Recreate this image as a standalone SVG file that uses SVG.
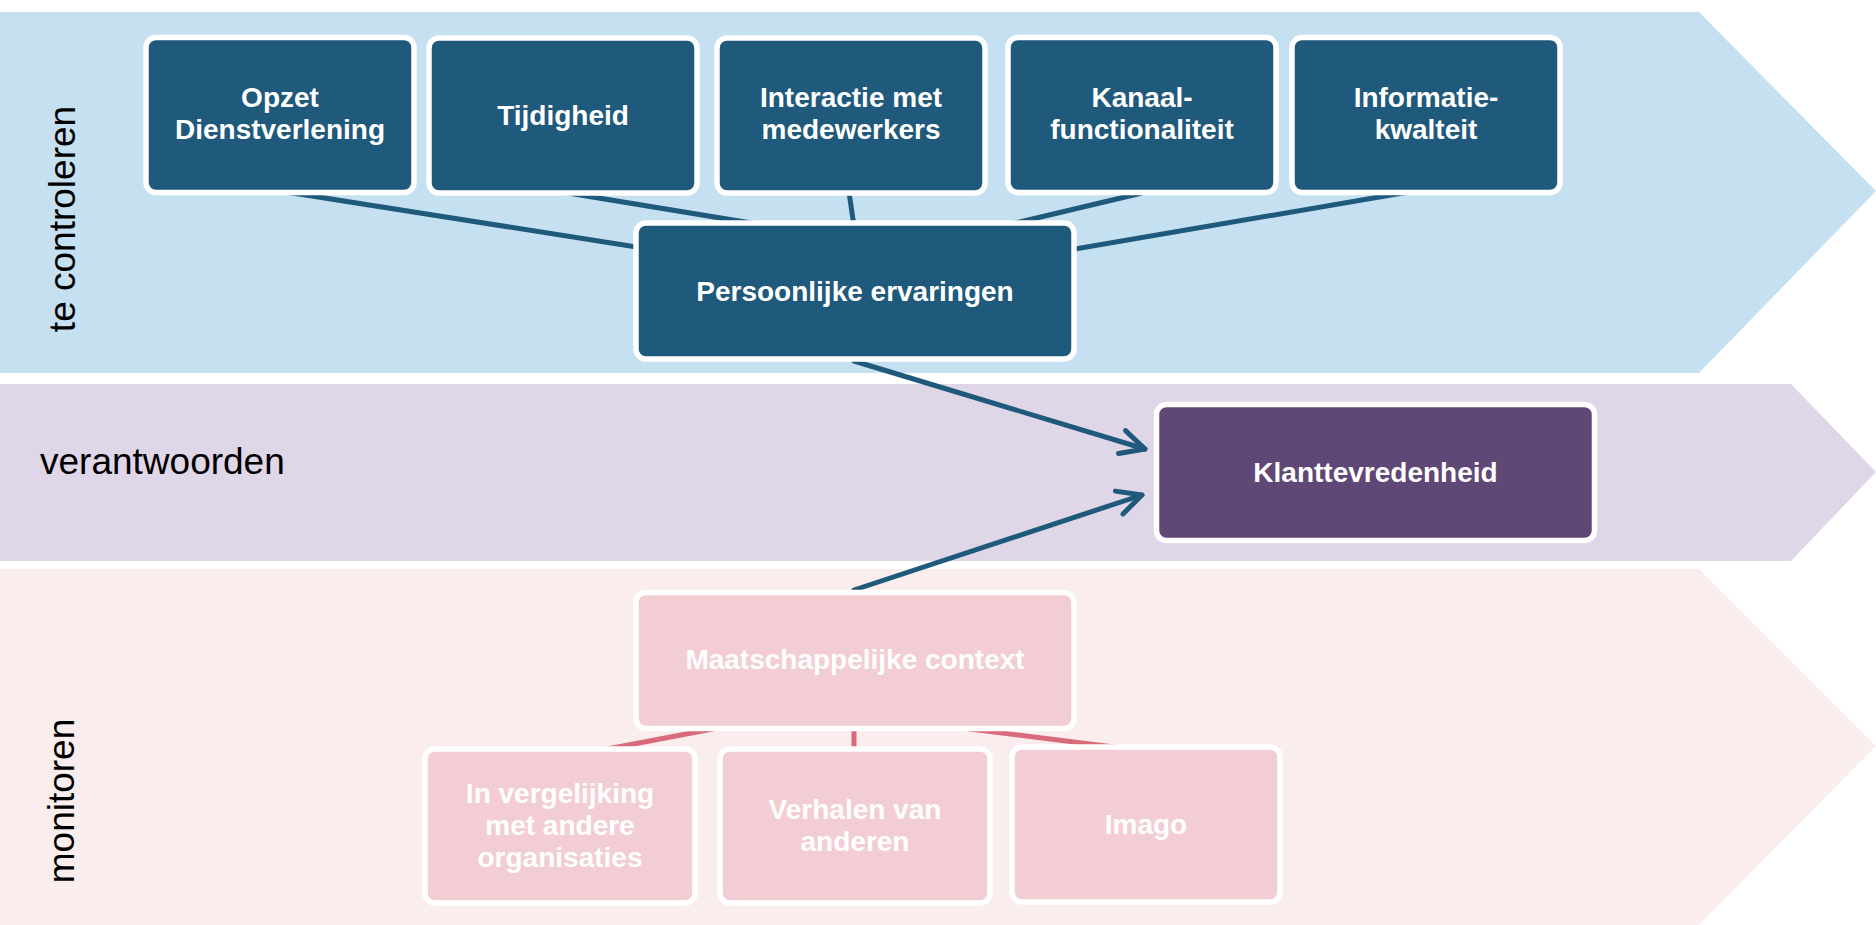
<svg xmlns="http://www.w3.org/2000/svg" width="1876" height="925" viewBox="0 0 1876 925">
  <defs>
    <style>
      .band-label { font-family: "Liberation Sans", Arial, sans-serif; font-size: 37px; fill: #000000; }
      .box { stroke: #FFFFFF; stroke-width: 5.5; }
      .dark { fill: #1F597B; }
      .purple { fill: #5F4876; }
      .pink { fill: #F2CDD3; }
      .lbl { font-family: "Liberation Sans", Arial, sans-serif; font-size: 28px; font-weight: bold; fill: #FFFFFF; text-anchor: middle; }
      .conn-blue { stroke: #1F597B; stroke-width: 5; fill: none; }
      .conn-pink { stroke: #D96A7A; stroke-width: 5; fill: none; }
      .arrow { stroke: #1F597B; stroke-width: 5; fill: none; stroke-linecap: round; marker-end: url(#chev); }
    </style>
    <marker id="chev" markerUnits="userSpaceOnUse" viewBox="-30 -16 36 32" markerWidth="36" markerHeight="32" refX="0" refY="0" orient="auto">
      <path d="M -24,-12 L 0,0 L -24,12" fill="none" stroke="#1F597B" stroke-width="5" stroke-linecap="round" stroke-linejoin="round"/>
    </marker>
  </defs>

  <rect width="1876" height="925" fill="#FFFFFF"/>

  <g id="bands">
    <polygon points="0,12 1699,12 1876,191 1699,373 0,373" fill="#C5E1F1"/>
    <polygon points="0,384 1791,384 1876,472 1791,561 0,561" fill="#DFD6E7"/>
    <polygon points="0,569 1699,569 1876,746 1699,925 0,925" fill="#FAEDEE"/>
    <text class="band-label" transform="translate(75,219) rotate(-90)" text-anchor="middle">te controleren</text>
    <text class="band-label" x="40" y="474">verantwoorden</text>
    <text class="band-label" transform="translate(74,801) rotate(-90)" text-anchor="middle">monitoren</text>
  </g>

  <g id="connectors">
    <line class="conn-blue" x1="280" y1="191" x2="700" y2="257"/>
    <line class="conn-blue" x1="562" y1="192" x2="800" y2="231"/>
    <line class="conn-blue" x1="849" y1="192" x2="856" y2="240"/>
    <line class="conn-blue" x1="1142" y1="193" x2="990" y2="229"/>
    <line class="conn-blue" x1="1426" y1="189" x2="1040" y2="255"/>
    <line class="conn-pink" x1="760" y1="720" x2="560" y2="758"/>
    <line class="conn-pink" x1="854" y1="720" x2="854" y2="760"/>
    <line class="conn-pink" x1="930" y1="724" x2="1146" y2="751"/>
    <line class="arrow" x1="854" y1="361" x2="1145" y2="449"/>
    <line class="arrow" x1="854" y1="590" x2="1142" y2="495"/>
  </g>

  <g id="opzet">
    <rect class="box dark" x="146" y="37.5" width="268" height="155" rx="10"/>
    <text class="lbl" x="280" y="107">Opzet</text>
    <text class="lbl" x="280" y="139">Dienstverlening</text>
  </g>
  <g id="tijdigheid">
    <rect class="box dark" x="429" y="38" width="268" height="155" rx="10"/>
    <text class="lbl" x="563" y="125">Tijdigheid</text>
  </g>
  <g id="interactie">
    <rect class="box dark" x="717" y="38" width="268" height="155" rx="10"/>
    <text class="lbl" x="851" y="107">Interactie met</text>
    <text class="lbl" x="851" y="139">medewerkers</text>
  </g>
  <g id="kanaal">
    <rect class="box dark" x="1008" y="37.5" width="268" height="155" rx="10"/>
    <text class="lbl" x="1142" y="107">Kanaal-</text>
    <text class="lbl" x="1142" y="139">functionaliteit</text>
  </g>
  <g id="informatie">
    <rect class="box dark" x="1292" y="37.5" width="268" height="155" rx="10"/>
    <text class="lbl" x="1426" y="107">Informatie-</text>
    <text class="lbl" x="1426" y="139">kwalteit</text>
  </g>
  <g id="persoonlijk">
    <rect class="box dark" x="636" y="223" width="438" height="136" rx="10"/>
    <text class="lbl" x="855" y="301">Persoonlijke ervaringen</text>
  </g>
  <g id="klanttevredenheid">
    <rect class="box purple" x="1156.5" y="404.5" width="438" height="136" rx="10"/>
    <text class="lbl" x="1375.5" y="482">Klanttevredenheid</text>
  </g>
  <g id="maatschappelijk">
    <rect class="box pink" x="636" y="592.5" width="438" height="136" rx="10"/>
    <text class="lbl" x="855" y="669">Maatschappelijke context</text>
  </g>
  <g id="vergelijking">
    <rect class="box pink" x="425" y="749" width="270" height="154" rx="10"/>
    <text class="lbl" x="560" y="803">In vergelijking</text>
    <text class="lbl" x="560" y="835">met andere</text>
    <text class="lbl" x="560" y="867">organisaties</text>
  </g>
  <g id="verhalen">
    <rect class="box pink" x="720" y="749" width="270" height="154" rx="10"/>
    <text class="lbl" x="855" y="819">Verhalen van</text>
    <text class="lbl" x="855" y="851">anderen</text>
  </g>
  <g id="imago">
    <rect class="box pink" x="1012" y="747" width="268" height="155" rx="10"/>
    <text class="lbl" x="1146" y="834">Imago</text>
  </g>
</svg>
